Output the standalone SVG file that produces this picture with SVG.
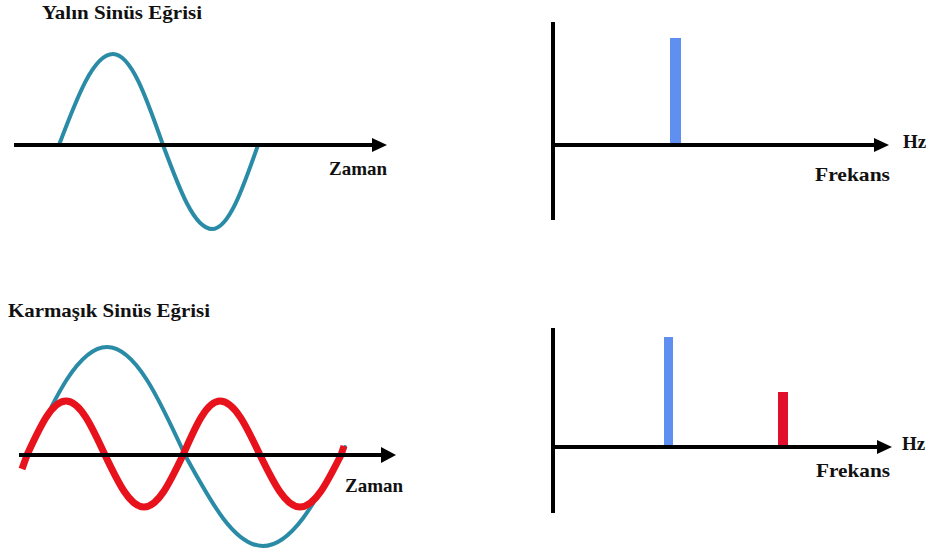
<svg xmlns="http://www.w3.org/2000/svg" width="938" height="559" viewBox="0 0 938 559">
<style>
.lbl{font-family:'Liberation Serif','DejaVu Serif','Times New Roman',serif;font-weight:bold;font-size:19px;fill:#111}
.axis{stroke:#000;stroke-width:4;fill:none}
.head{fill:#000}
.teal{stroke:#2a8ba6;stroke-width:4;fill:none;stroke-linecap:round}
.red{stroke:#e8121c;stroke-width:7;fill:none;stroke-linecap:butt}
.bluebar{fill:#5f8ff0}
.redbar{fill:#e20f2c}
</style>
<rect width="938" height="559" fill="#fff"/>

<g id="pure-time">
<text class="lbl" x="42" y="19" textLength="160" lengthAdjust="spacingAndGlyphs">Yalın  Sinüs Eğrisi</text>
<path class="teal" d="M59,145 C77.05,97.22 93.46,54 113,54 C131.09,54 146.29,97.22 163,145 C179.38,189.11 194.27,229 212,229 C228.64,229 242.62,189.11 258,145"/>
<text class="lbl" x="329" y="175">Zaman</text>
</g>

<g id="complex-time">
<text class="lbl" x="8" y="317" textLength="202" lengthAdjust="spacingAndGlyphs">Karmaşık Sinüs Eğrisi</text>
<path class="teal" d="M23,464 L28,455 C54.41,398.29 78.42,347 107,347 C135.22,347 158.92,398.29 185,455 C211.08,502.78 234.78,546 263,546 C291.22,546 314.92,502.78 341,455 L345,447"/>
<path class="red" d="M22,469 L27,455 C40.04,426.64 51.89,401 66,401 C80.11,401 91.96,426.64 105,455 C118.04,482.31 129.89,507 144,507 C158.11,507 169.96,482.31 183,455 C195.37,426.64 206.61,401 220,401 C234.47,401 246.63,426.64 260,455 C273.37,482.31 285.53,507 300,507 C314.830,507 327.29,482.31 341,455 L344,446"/>
<text class="lbl" x="345" y="492">Zaman</text>
</g>

<g id="pure-spectrum">
<rect class="bluebar" x="670" y="38" width="11" height="107"/>
<text class="lbl" x="903" y="148">Hz</text>
<text class="lbl" x="815" y="181" textLength="75" lengthAdjust="spacingAndGlyphs">Frekans</text>
</g>

<g id="complex-spectrum">
<rect class="bluebar" x="664" y="337" width="9" height="110"/>
<rect class="redbar" x="778" y="392" width="10" height="55"/>
<text class="lbl" x="902" y="450">Hz</text>
<text class="lbl" x="816" y="477" textLength="74" lengthAdjust="spacingAndGlyphs">Frekans</text>
</g>

<g id="connectors">
<line class="axis" x1="14" y1="145" x2="374" y2="145"/>
<polygon class="head" points="372,138 387,145 372,152"/>
<line class="axis" x1="19" y1="455" x2="383" y2="455"/>
<polygon class="head" points="381,447 396,455 381,463"/>
<line class="axis" x1="553" y1="22" x2="553" y2="220"/>
<line class="axis" x1="551" y1="145" x2="876" y2="145"/>
<polygon class="head" points="874,138 889,145 874,152"/>
<line class="axis" x1="553" y1="328" x2="553" y2="513"/>
<line class="axis" x1="551" y1="447" x2="879" y2="447"/>
<polygon class="head" points="877,440 892,447 877,454"/>
</g>
</svg>
